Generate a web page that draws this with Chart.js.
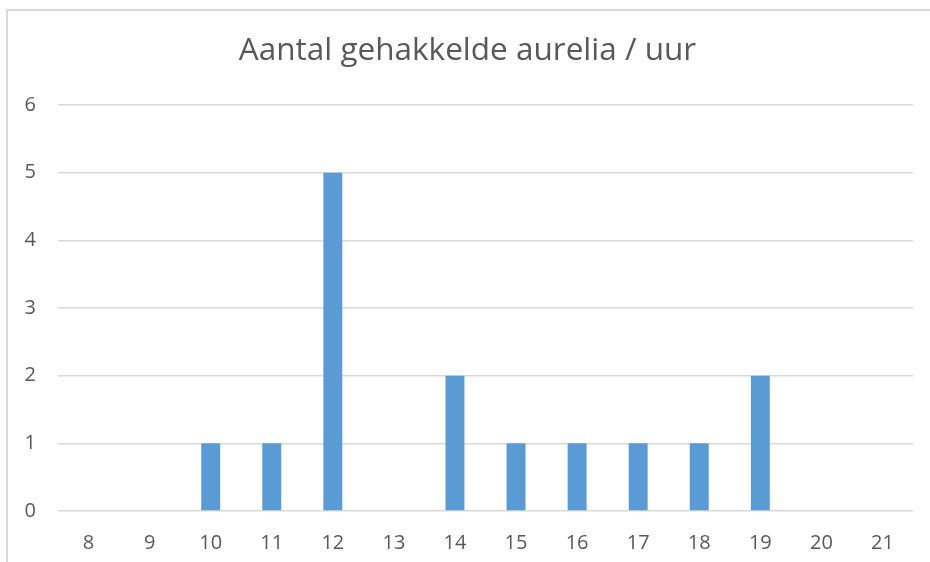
<!DOCTYPE html>
<html>
<head>
<meta charset="utf-8">
<script src="https://cdn.jsdelivr.net/npm/chart.js@4.4.0/dist/chart.umd.min.js"></script>
<style>
  html, body { margin: 0; padding: 0; background: #fff; }
  #wrap { position: relative; width: 930px; height: 562px; overflow: hidden; }
  #frame { position: absolute; left: 6px; top: 9px; width: 1000px; height: 700px; border: 2px solid #d9d9d9; box-sizing: border-box; }
  #chart { position: absolute; left: 0; top: 0; }
</style>
</head>
<body>
<div id="wrap">
  <div id="frame"></div>
  <canvas id="chart" width="930" height="562"></canvas>
</div>
<script>
const hours = ['8', '9', '10', '11', '12', '13', '14', '15', '16', '17', '18', '19', '20', '21'];
const counts = [0, 0, 1, 1, 5, 0, 2, 1, 1, 1, 1, 2, 0, 0];
const yTicks = [0, 1, 2, 3, 4, 5, 6];
const chartTitle = 'Aantal gehakkelde aurelia / uur';

const textColor = '#595959';
const gridColor = '#d9d9d9';

const ctx = document.getElementById('chart').getContext('2d');

new Chart(ctx, {
  type: 'bar',
  data: {
    labels: hours,
    datasets: [{
      data: counts,
      backgroundColor: '#5b9bd5',
      borderWidth: 0,
      barPercentage: 0.31,
      categoryPercentage: 1,
    }],
  },
  options: {
    responsive: false,
    animation: false,
    // left padding nudges the title centre right, like the original frame
    layout: { padding: { left: 22, right: 17, top: 0, bottom: 0 } },
    scales: {
      x: {
        grid: { display: false, drawTicks: false },
        border: { display: false },
        ticks: {
          color: textColor,
          padding: 20,
          font: { family: 'Open Sans', size: 20 },
          maxRotation: 0,
        },
        afterFit: (scale) => { scale.height = 51; },
      },
      y: {
        min: 0,
        max: 6,
        grid: { color: gridColor, lineWidth: 1.5, drawTicks: false },
        border: { display: false },
        ticks: {
          color: textColor,
          padding: 22,
          stepSize: 1,
          font: { family: 'Open Sans', size: 20 },
        },
        afterBuildTicks: (scale) => { scale.ticks = yTicks.map(v => ({ value: v })); },
        afterFit: (scale) => { scale.width = 36; },
      },
    },
    plugins: {
      legend: { display: false },
      tooltip: { enabled: false },
      title: {
        display: true,
        text: chartTitle,
        color: textColor,
        font: { family: 'Open Sans', size: 31.5, weight: 'normal' },
        padding: { top: 32, bottom: 35.2 },
      },
    },
  },
});
</script>
</body>
</html>
